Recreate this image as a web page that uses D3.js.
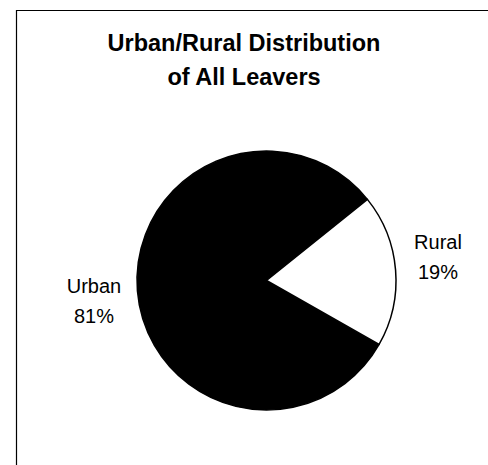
<!DOCTYPE html>
<html>
<head>
<meta charset="utf-8">
<script src="https://cdn.jsdelivr.net/npm/d3@7"></script>
<style>
  html, body { margin: 0; padding: 0; background: #fff; }
  svg { display: block; }
</style>
</head>
<body>
<script>
const categories = ["Urban", "Rural"];
const values = [81, 19];
const fills = ["#000000", "#ffffff"];
const titleLines = ["Urban/Rural Distribution", "of All Leavers"];

const W = 488, H = 465;
const svg = d3.select("body").append("svg").attr("width", W).attr("height", H);

// frame (left and top edges visible)
svg.append("path")
  .attr("d", `M16.5,${H} L16.5,10.5 L${W},10.5`)
  .attr("fill", "none").attr("stroke", "#000").attr("stroke-width", 1.2);

// title
const title = svg.append("text")
  .attr("text-anchor", "middle")
  .attr("font-family", "Arial, 'Liberation Sans', sans-serif")
  .attr("font-weight", "bold")
  .attr("font-size", 23.5)
  .attr("fill", "#000");
titleLines.forEach((t, i) => {
  title.append("tspan").attr("x", 244).attr("y", 51 + i * 33.5).text(t);
});

// pie
const cx = 266.5, cy = 280.5, r = 129.5;
const start = 119.6 * Math.PI / 180;
const pie = d3.pie().sort(null).value(d => d.v)
  .startAngle(start).endAngle(start + 2 * Math.PI);
const arc = d3.arc().innerRadius(0).outerRadius(r);
const data = categories.map((c, i) => ({ c, v: values[i], f: fills[i] }));
const arcs = pie(data);

const g = svg.append("g").attr("transform", `translate(${cx},${cy})`);
g.selectAll("path").data(arcs).join("path")
  .attr("d", arc)
  .attr("fill", d => d.data.f)
  .attr("stroke", "#000")
  .attr("stroke-width", 1.5)
  .attr("stroke-linejoin", "round");

// labels
const total = d3.sum(values);
const labelPos = { Urban: [94, 293], Rural: [438, 249] };
arcs.forEach(d => {
  const [x, y] = labelPos[d.data.c];
  const t = svg.append("text")
    .attr("text-anchor", "middle")
    .attr("font-family", "Arial, 'Liberation Sans', sans-serif")
    .attr("font-size", 20)
    .attr("fill", "#000");
  t.append("tspan").attr("x", x).attr("y", y).text(d.data.c);
  t.append("tspan").attr("x", x).attr("y", y + 29.5)
    .text(Math.round(d.data.v / total * 100) + "%");
});
</script>
</body>
</html>
